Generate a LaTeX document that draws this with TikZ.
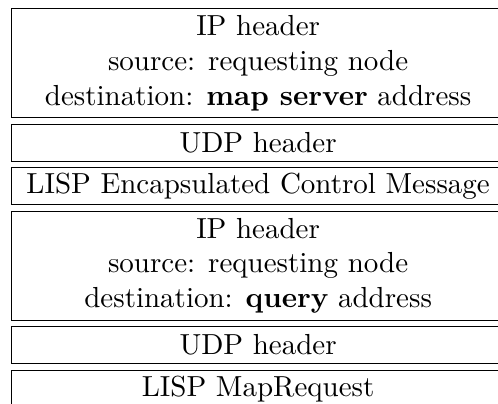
\documentclass[tikz,border=0pt]{standalone}
\usetikzlibrary{positioning}

\begin{document}
\begin{tikzpicture}[
    layer/.style={draw, thin, minimum width=170pt, minimum height=12.8pt, inner sep=0pt, align=center},
    iplayer/.style={layer, minimum height=37.6pt},
    node distance=1.8pt
  ]
    \useasboundingbox (0, 0) rectangle (171.7pt, -139pt);

    % outer packet
    \node [iplayer, anchor=north west] (ipout) at (3.8pt, -2.8pt)
      {IP header\\ source: requesting node\\ destination: \textbf{map server} address};
    \node [layer, below=of ipout] (udpout) {UDP header};
    \node [layer, below=of udpout] (ecm) {LISP Encapsulated Control Message};

    % inner packet
    \node [iplayer, below=of ecm] (ipin)
      {IP header\\ source: requesting node\\ destination: \textbf{query} address};
    \node [layer, below=of ipin] (udpin) {UDP header};
    \node [layer, below=of udpin] (mapreq) {LISP MapRequest};
  \end{tikzpicture}
\end{document}
